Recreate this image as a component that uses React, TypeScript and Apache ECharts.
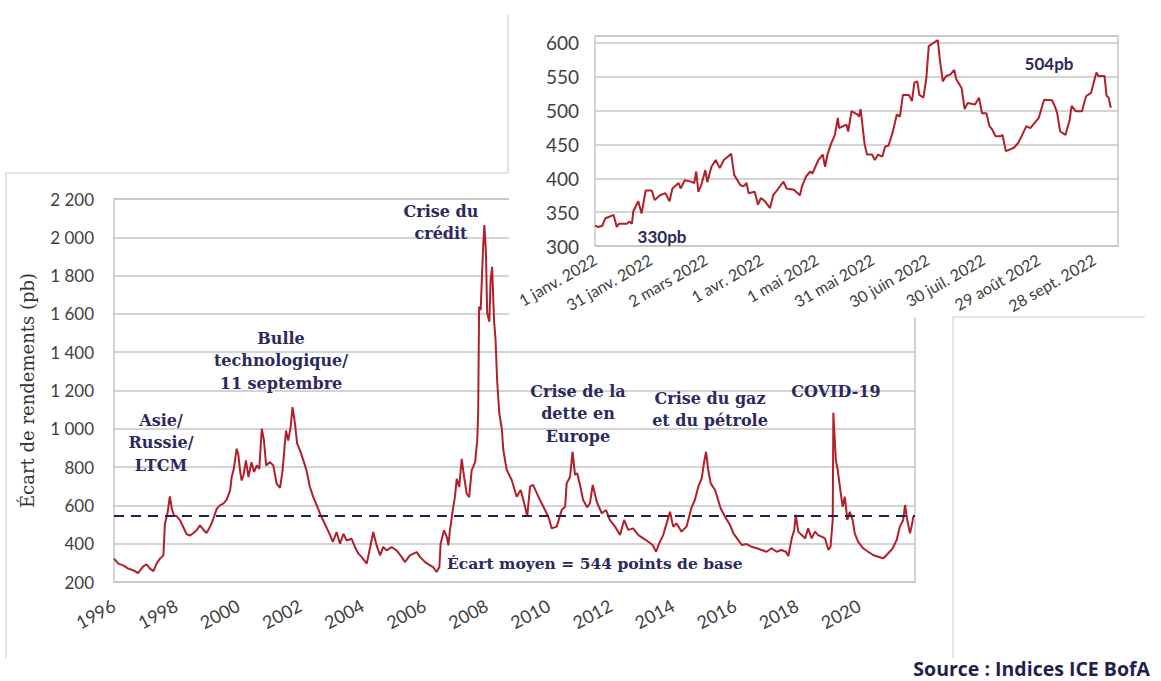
import React, { useEffect, useRef } from "react";
import * as echarts from "echarts";

// ---------- Main chart data (x = year as shown on the axis, y = spread in pb) ----------
const mainYears = [
  1996.0, 1996.14, 1996.3, 1996.46, 1996.62, 1996.78, 1996.94, 1997.05, 1997.16, 1997.27,
  1997.37, 1997.48, 1997.59, 1997.64, 1997.72, 1997.8, 1997.86, 1997.93, 1998.02, 1998.13,
  1998.23, 1998.34, 1998.45, 1998.56, 1998.66, 1998.77, 1998.88, 1998.98, 1999.09, 1999.2,
  1999.31, 1999.41, 1999.52, 1999.63, 1999.74, 1999.79, 1999.86, 1999.95, 2000.0, 2000.06,
  2000.11, 2000.17, 2000.25, 2000.33, 2000.43, 2000.51, 2000.6, 2000.68, 2000.76, 2000.83,
  2000.9, 2001.02, 2001.13, 2001.24, 2001.35, 2001.43, 2001.54, 2001.61, 2001.69, 2001.75,
  2001.83, 2001.9, 2001.99, 2002.1, 2002.2, 2002.31, 2002.42, 2002.53, 2002.66, 2002.8,
  2002.96, 2003.05, 2003.17, 2003.28, 2003.39, 2003.49, 2003.65, 2003.76, 2003.87, 2003.98,
  2004.14, 2004.24, 2004.35, 2004.46, 2004.57, 2004.67, 2004.78, 2004.94, 2005.1, 2005.27,
  2005.37, 2005.53, 2005.75, 2005.86, 2006.02, 2006.18, 2006.28, 2006.39, 2006.48, 2006.52,
  2006.63, 2006.72, 2006.77, 2006.82, 2006.91, 2006.98, 2007.04, 2007.12, 2007.2, 2007.27,
  2007.36, 2007.44, 2007.52, 2007.63, 2007.7, 2007.73, 2007.76, 2007.81, 2007.89, 2007.93,
  2007.98, 2008.02, 2008.09, 2008.13, 2008.18, 2008.24, 2008.29, 2008.34, 2008.41, 2008.49,
  2008.54, 2008.65, 2008.81, 2008.97, 2009.1, 2009.24, 2009.31, 2009.4, 2009.5, 2009.67,
  2009.83, 2009.99, 2010.1, 2010.26, 2010.42, 2010.53, 2010.58, 2010.69, 2010.77, 2010.85,
  2010.92, 2011.01, 2011.11, 2011.24, 2011.33, 2011.42, 2011.55, 2011.71, 2011.85, 2011.97,
  2012.14, 2012.3, 2012.43, 2012.56, 2012.72, 2012.89, 2013.05, 2013.21, 2013.35, 2013.46,
  2013.56, 2013.69, 2013.8, 2013.91, 2014.01, 2014.12, 2014.28, 2014.44, 2014.61, 2014.71,
  2014.82, 2014.93, 2015.0, 2015.07, 2015.14, 2015.22, 2015.36, 2015.54, 2015.68, 2015.84,
  2015.95, 2016.11, 2016.22, 2016.38, 2016.54, 2016.7, 2016.86, 2017.02, 2017.18, 2017.34,
  2017.5, 2017.64, 2017.72, 2017.83, 2017.91, 2017.96, 2018.04, 2018.15, 2018.26, 2018.36,
  2018.47, 2018.58, 2018.68, 2018.79, 2018.9, 2019.01, 2019.08, 2019.15, 2019.17, 2019.25,
  2019.31, 2019.38, 2019.47, 2019.54, 2019.62, 2019.7, 2019.79, 2019.86, 2019.97, 2020.13,
  2020.29, 2020.45, 2020.61, 2020.78, 2020.94, 2021.08, 2021.21, 2021.31, 2021.42, 2021.48,
  2021.55, 2021.64, 2021.72, 2021.74,
];
const mainSpread = [
  322, 296, 287, 270, 261, 247, 282, 292, 270, 257,
  296, 322, 339, 504, 556, 647, 583, 548, 543, 522,
  487, 449, 443, 456, 470, 496, 473, 456, 487, 530,
  583, 600, 609, 630, 678, 748, 791, 896, 870, 783,
  730, 757, 835, 748, 826, 774, 809, 791, 1000, 939,
  809, 826, 809, 713, 692, 783, 991, 939, 1009, 1113,
  1026, 922, 887, 835, 783, 696, 643, 600, 548, 500,
  445, 409, 461, 400, 452, 417, 426, 383, 348, 330,
  296, 374, 461, 391, 339, 383, 365, 383, 365, 330,
  304, 339, 356, 330, 304, 287, 278, 252, 278, 400,
  470, 435, 391, 470, 574, 643, 739, 696, 843, 757,
  661, 643, 783, 826, 939, 1081, 1638, 1620, 1951, 2064,
  1918, 1603, 1559, 1777, 1846, 1568, 1464, 1255, 1081, 1003,
  889, 785, 733, 645, 680, 593, 541, 698, 707, 645,
  593, 541, 480, 489, 576, 593, 715, 750, 880, 759,
  768, 707, 628, 590, 611, 707, 619, 559, 576, 524,
  489, 445, 524, 472, 480, 445, 428, 410, 393, 358,
  402, 445, 506, 567, 489, 506, 463, 489, 593, 628,
  698, 741, 820, 880, 785, 715, 680, 585, 541, 498,
  454, 419, 393, 398, 384, 376, 367, 358, 376, 358,
  367, 358, 336, 428, 472, 550, 463, 445, 428, 480,
  428, 463, 445, 437, 428, 367, 384, 524, 1084, 837,
  785, 698, 593, 645, 524, 567, 524, 454, 410, 376,
  358, 341, 332, 324, 350, 376, 419, 489, 524, 602,
  524, 454, 515, 541,
];
const meanSpread = 544;

// ---------- Inset (2022) data: x = days since 1 Jan 2022 ----------
const insetDays = [
  0, 1.8, 4.0, 5.6, 8.5, 10.0, 11.8, 12.9, 17.4, 18.5,
  20.0, 20.7, 23.4, 25.2, 27.4, 30.7, 32.3, 35.2, 38.1, 40.3,
  41.9, 45.2, 46.3, 48.6, 51.9, 53.7, 54.8, 55.9, 57.5, 59.7,
  60.8, 63.0, 65.3, 67.5, 69.7, 73.7, 75.3, 78.6, 80.4, 82.0,
  83.1, 86.4, 88.2, 89.8, 92.0, 94.7, 96.4, 98.7, 102.0, 103.6,
  107.6, 110.9, 112.0, 114.3, 116.5, 117.6, 120.9, 123.2, 124.5, 125.8,
  127.6, 129.8, 131.4, 132.1, 134.3, 136.1, 137.0, 138.8, 142.1, 142.8,
  143.7, 145.9, 147.2, 149.9, 151.4, 153.2, 155.5, 157.0, 158.8, 161.0,
  163.3, 165.0, 166.6, 169.9, 171.5, 172.8, 174.4, 175.5, 177.7, 179.3,
  180.6, 183.3, 185.5, 186.6, 188.2, 190.0, 192.2, 194.4, 195.5, 198.4,
  200.0, 201.6, 205.6, 207.8, 209.4, 211.8, 213.4, 214.9, 216.7, 219.4,
  220.5, 222.3, 226.7, 229.0, 231.2, 233.4, 235.6, 240.1, 243.0, 247.4,
  249.0, 250.1, 251.7, 254.6, 256.8, 257.9, 260.1, 263.5, 265.7, 268.4,
  271.3, 272.4, 275.7, 276.8, 277.9, 279.1,
];
const insetSpread = [
  330, 328, 330, 341, 344, 346, 328, 333, 333, 336,
  333, 351, 366, 348, 382, 382, 368, 375, 378, 366,
  385, 393, 385, 397, 395, 393, 410, 380, 390, 412,
  394, 417, 427, 415, 427, 436, 405, 390, 388, 393,
  378, 380, 361, 371, 366, 356, 375, 383, 395, 385,
  383, 375, 388, 403, 410, 407, 427, 435, 417, 435,
  450, 464, 489, 474, 477, 479, 469, 499, 494, 491,
  502, 450, 435, 435, 427, 435, 432, 447, 448, 467,
  494, 491, 523, 523, 514, 541, 543, 523, 519, 548,
  595, 600, 604, 575, 543, 551, 553, 560, 546, 533,
  502, 511, 509, 519, 496, 496, 477, 472, 462, 462,
  464, 440, 445, 452, 464, 477, 474, 489, 516, 515,
  505, 496, 469, 464, 486, 507, 499, 499, 521, 526,
  556, 551, 551, 522, 519, 504,
];
const insetTickLabels = [
  "1 janv. 2022", "31 janv. 2022", "2 mars 2022", "1 avr. 2022", "1 mai 2022",
  "31 mai 2022", "30 juin 2022", "30 juil. 2022", "29 août 2022", "28 sept. 2022",
];
const startLabel = "330pb";
const endLabel = "504pb";

const RED = "#b0202a";
const NAVY = "#2a2a5e";
const GRID = "#c6c6c6";
const LABEL = "#404040";
const SERIF = "DejaVu Serif";
const SANS = "Lato";

function fmtThousands(v: number): string {
  if (v >= 1000) {
    const t = Math.floor(v / 1000);
    const r = String(v % 1000).padStart(3, "0");
    return `${t} ${r}`;
  }
  return String(v);
}

const annotations = [
  { lines: ["Asie/", "Russie/", "LTCM"], x: 161, y: 420 },
  { lines: ["Bulle", "technologique/", "11 septembre"], x: 281, y: 338 },
  { lines: ["Crise du", "crédit"], x: 441, y: 211 },
  { lines: ["Crise de la", "dette en", "Europe"], x: 578, y: 391 },
  { lines: ["Crise du gaz", "et du pétrole"], x: 710, y: 398 },
  { lines: ["COVID-19"], x: 836, y: 391 },
];

export default function App() {
  const ref = useRef<HTMLDivElement>(null);
  useEffect(() => {
    document.body.style.margin = "0";
    if (!ref.current) return;
    const chart = echarts.init(ref.current, undefined, { renderer: "svg" });

    const annotationTexts: any[] = [];
    annotations.forEach((a) => {
      a.lines.forEach((line, i) => {
        annotationTexts.push({
          type: "text",
          z: 55,
          x: a.x,
          y: a.y + i * 22.5,
          style: {
            text: line,
            fill: NAVY,
            font: `bold 16px "${SERIF}"`,
            textAlign: "center",
            textVerticalAlign: "middle",
          },
        });
      });
    });

    const frame = (x1: number, y1: number, x2: number, y2: number) => ({
      type: "line",
      z: 55,
      shape: { x1, y1, x2, y2 },
      style: { stroke: "#c8c8c8", lineWidth: 1 },
    });

    const option: any = {
      animation: false,
      backgroundColor: "#ffffff",
      grid: [
        {
          left: 114, top: 199, width: 801, height: 383,
          show: true, borderColor: GRID, borderWidth: 1.5, containLabel: false,
        },
        {
          left: 595, top: 36, width: 523, height: 210,
          show: true, borderColor: GRID, borderWidth: 1.5, z: 60, containLabel: false,
        },
      ],
      xAxis: [
        {
          type: "value", gridIndex: 0, min: 1996, max: 2021.8, interval: 2,
          axisLine: { show: false }, axisTick: { show: false }, splitLine: { show: false },
          axisLabel: {
            rotate: 28, margin: 22, fontSize: 18, color: LABEL, fontFamily: SANS,
            showMaxLabel: false,
            formatter: (v: number) => String(Math.round(v)),
          },
        },
        {
          type: "value", gridIndex: 1, min: 0, max: 283, interval: 30, z: 60,
          axisLine: { show: false }, axisTick: { show: false }, splitLine: { show: false },
          axisLabel: {
            rotate: 30, margin: 12, fontSize: 16, color: LABEL, fontFamily: SANS,
            showMaxLabel: false,
            formatter: (v: number) => insetTickLabels[Math.round(v / 30)] ?? "",
          },
        },
      ],
      yAxis: [
        {
          type: "value", gridIndex: 0, min: 200, max: 2200, interval: 200,
          axisLine: { show: false }, axisTick: { show: false },
          splitLine: { lineStyle: { color: GRID, width: 1.5 } },
          axisLabel: {
            margin: 20, fontSize: 17, color: LABEL, fontFamily: SANS,
            formatter: (v: number) => fmtThousands(v),
          },
          name: "Écart de rendements (pb)",
          nameLocation: "middle",
          nameGap: 78,
          nameTextStyle: { fontFamily: SERIF, fontSize: 18, color: "#333333" },
        },
        {
          type: "value", gridIndex: 1, min: 300, max: 610, interval: 50, z: 60,
          axisLine: { show: false }, axisTick: { show: false },
          splitLine: { lineStyle: { color: GRID, width: 1.5 } },
          axisLabel: {
            margin: 16, fontSize: 19, color: LABEL, fontFamily: SANS,
            showMaxLabel: false,
          },
        },
      ],
      series: [
        {
          type: "line", xAxisIndex: 0, yAxisIndex: 0,
          data: mainYears.map((x, i) => [x, mainSpread[i]]),
          showSymbol: false, symbol: "none",
          lineStyle: { color: RED, width: 2 },
          markLine: {
            silent: true, symbol: "none",
            label: { show: false },
            lineStyle: { color: "#20205a", type: [10, 7], width: 2 },
            data: [{ yAxis: meanSpread }],
          },
        },
        {
          type: "line", xAxisIndex: 1, yAxisIndex: 1, z: 60,
          data: insetDays.map((x, i) => [x, insetSpread[i]]),
          showSymbol: false, symbol: "none",
          lineStyle: { color: RED, width: 2 },
        },
      ],
      graphic: [
        {
          type: "rect", z: 50,
          shape: { x: 509, y: 15, width: 636, height: 302 },
          style: { fill: "#ffffff" },
        },
        frame(6, 173, 6, 658),
        frame(6, 173, 508, 173),
        frame(508, 15, 508, 173),
        frame(953, 317, 953, 658),
        frame(953, 317, 1145, 317),
        ...annotationTexts,
        {
          type: "text", z: 55, x: 447, y: 563,
          style: {
            text: `Écart moyen = ${meanSpread} points de base`,
            fill: NAVY, font: `bold 15.5px "${SERIF}"`,
            textAlign: "left", textVerticalAlign: "middle",
          },
        },
        {
          type: "text", z: 70, x: 662, y: 236,
          style: {
            text: startLabel, fill: NAVY, font: `bold 17px "${SANS}"`,
            textAlign: "center", textVerticalAlign: "middle",
          },
        },
        {
          type: "text", z: 70, x: 1049, y: 63,
          style: {
            text: endLabel, fill: NAVY, font: `bold 17px "${SANS}"`,
            textAlign: "center", textVerticalAlign: "middle",
          },
        },
        {
          type: "text", z: 55, x: 1150, y: 668,
          style: {
            text: "Source : Indices ICE BofA", fill: "#1f1f4e",
            font: `bold 19.5px "Open Sans"`,
            textAlign: "right", textVerticalAlign: "middle",
          },
        },
      ],
    };
    chart.setOption(option);
    return () => chart.dispose();
  }, []);
  return <div ref={ref} style={{ width: 1161, height: 681 }} />;
}
